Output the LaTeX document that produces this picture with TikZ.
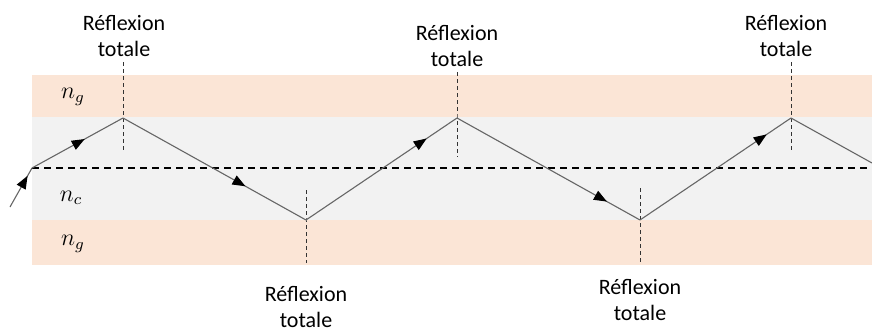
\documentclass[tikz,border=0pt]{standalone}
\usepackage{fontspec}
\setmainfont{Carlito}
\usetikzlibrary{arrows.meta,decorations.markings}
\definecolor{gaine}{HTML}{FBE5D6}
\definecolor{coeur}{HTML}{F2F2F2}
\tikzset{
  rayon/.style={draw=black!60, line width=0.55pt},
  fleche/.style={postaction={decorate,decoration={markings,
      mark=at position #1 with {\arrow[black]{Triangle[length=6.5pt,width=5pt]}}}}},
  normale/.style={draw=black!80, line width=0.4pt, dash pattern=on 2pt off 1.5pt},
  axe/.style={line width=0.9pt, dash pattern=on 3.5pt off 2.5pt},
  etiquette/.style={align=center, inner sep=0.5pt, font=\fontsize{11}{13}\selectfont},
  indice/.style={font=\large},
}

\begin{document}
\begin{tikzpicture}[x=0.5pt, y=-0.5pt]
		%%%%% START %%%%%
		\useasboundingbox (0,0) rectangle (872,332);
		
		% gaine et coeur
		\fill[gaine] (32,75) rectangle (872,117);
		\fill[coeur] (32,117) rectangle (872,220);
		\fill[gaine] (32,220) rectangle (872,265);
		
		\node[indice] (ng1) at (73,97) {$n_g$};
		\node[indice] (nc) at (71,198) {$n_c$};
		\node[indice] (ng2) at (73,244) {$n_g$};
		
		% axe
		\draw[axe] (32,168) -- (872,168);
		
		% points de reflexion
		\coordinate (in) at (10,207);
		\coordinate (a) at (32,168);
		\coordinate (r1) at (123,118);
		\coordinate (r2) at (306,220);
		\coordinate (r3) at (457,118);
		\coordinate (r4) at (640,220);
		\coordinate (r5) at (791,118);
		\coordinate (out) at (872,163);
		
		% normales
		\draw[normale] (123,62) -- (r1) -- (123,152);
		\draw[normale] (457,72) -- (r3) -- (457,157);
		\draw[normale] (791,62) -- (r5) -- (791,152);
		\draw[normale] (306,190) -- (r2) -- (306,263);
		\draw[normale] (640,188) -- (r4) -- (640,265);
		
		% rayon
		\draw[rayon, fleche=0.8] (in) -- (a);
		\draw[rayon, fleche=0.58] (a) -- (r1);
		\draw[rayon, fleche=0.67] (r1) -- (r2);
		\draw[rayon, fleche=0.8] (r2) -- (r3);
		\draw[rayon, fleche=0.82] (r3) -- (r4);
		\draw[rayon, fleche=0.84] (r4) -- (r5);
		\draw[rayon] (r5) -- (out);
		
		% etiquettes
		\node[etiquette] (t1) at (124,36) {Réflexion\\totale};
		\node[etiquette] (t2) at (457,46) {Réflexion\\totale};
		\node[etiquette] (t3) at (786,36) {Réflexion\\totale};
		\node[etiquette] (b1) at (306,307) {Réflexion\\totale};
		\node[etiquette] (b2) at (640,300) {Réflexion\\totale};
		
		%%%%% END %%%%%
	\end{tikzpicture}
\end{document}
